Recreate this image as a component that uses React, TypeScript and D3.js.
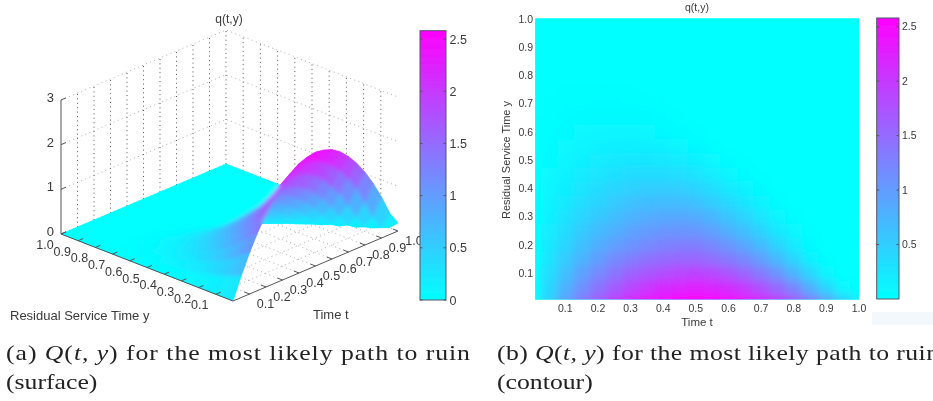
import React from "react";
import * as d3 from "d3";

// t runs 0..1 in steps of 0.05, one row per y (0, 0.05, ... 0.75), rest of a row is zero
const tValues = d3.range(21).map((i) => i / 20);
const yValues = d3.range(21).map((i) => i / 20);

const q000 = [0, 0.48, 0.92, 1.3, 1.63, 1.91, 2.14, 2.32, 2.45, 2.52, 2.55, 2.52, 2.45, 2.32, 2.14, 1.91, 1.63, 1.3, 0.92, 0.48, 0.18];
const q005 = [0, 0.4, 0.78, 1.1, 1.4, 1.65, 1.85, 2.02, 2.13, 2.2, 2.25, 2.2, 2.1, 1.95, 1.75, 1.5, 1.2, 0.8, 0.4, 0.08];
const q010 = [0, 0.33, 0.64, 0.93, 1.18, 1.4, 1.57, 1.7, 1.8, 1.87, 1.9, 1.85, 1.72, 1.55, 1.33, 1.08, 0.75, 0.4, 0.1];
const q015 = [0, 0.27, 0.53, 0.77, 0.98, 1.17, 1.31, 1.43, 1.5, 1.55, 1.55, 1.47, 1.35, 1.18, 0.97, 0.7, 0.42, 0.15, 0.02];
const q020 = [0, 0.22, 0.43, 0.63, 0.81, 0.96, 1.08, 1.17, 1.25, 1.3, 1.3, 1.2, 1.06, 0.88, 0.68, 0.44, 0.2, 0.05];
const q025 = [0, 0.18, 0.35, 0.52, 0.68, 0.8, 0.92, 1.0, 1.06, 1.08, 1.05, 0.95, 0.8, 0.63, 0.44, 0.23, 0.08, 0.01];
const q030 = [0, 0.14, 0.28, 0.42, 0.55, 0.66, 0.76, 0.83, 0.87, 0.88, 0.84, 0.74, 0.58, 0.42, 0.26, 0.1, 0.02];
const q035 = [0, 0.11, 0.22, 0.33, 0.44, 0.53, 0.61, 0.66, 0.68, 0.67, 0.62, 0.51, 0.38, 0.25, 0.12, 0.03];
const q040 = [0, 0.09, 0.17, 0.26, 0.34, 0.41, 0.47, 0.5, 0.51, 0.49, 0.44, 0.33, 0.22, 0.12, 0.04];
const q045 = [0, 0.07, 0.13, 0.2, 0.26, 0.31, 0.35, 0.36, 0.35, 0.32, 0.27, 0.18, 0.1, 0.04, 0.01];
const q050 = [0, 0.05, 0.09, 0.14, 0.19, 0.22, 0.24, 0.25, 0.23, 0.2, 0.15, 0.08, 0.03, 0.01];
const q055 = [0, 0.03, 0.07, 0.1, 0.13, 0.15, 0.16, 0.15, 0.13, 0.1, 0.06, 0.02];
const q060 = [0, 0.02, 0.05, 0.07, 0.08, 0.09, 0.09, 0.08, 0.06, 0.04, 0.02];
const q065 = [0, 0.01, 0.03, 0.04, 0.05, 0.05, 0.05, 0.04, 0.03, 0.01];
const q070 = [0, 0.01, 0.02, 0.02, 0.03, 0.03, 0.02, 0.02, 0.01];
const q075 = [0, 0, 0.01, 0.01, 0.01, 0.01, 0.01];
const qRows = [q000, q005, q010, q015, q020, q025, q030, q035, q040, q045, q050, q055, q060, q065, q070, q075];

const tenths = [0.1, 0.2, 0.3, 0.4, 0.5, 0.6, 0.7, 0.8, 0.9, 1.0];
const zTicks = [0, 1, 2, 3];
const barTicksLeft = [0, 0.5, 1, 1.5, 2, 2.5];
const barTicksRight = [0.5, 1, 1.5, 2, 2.5];
const qMax = 2.58;

const qAt = (i: number, j: number) => (qRows[j] && qRows[j][i]) || 0;

const color = d3.scaleLinear<string>().domain([0, qMax]).range(["#00ffff", "#ff00ff"]);

const INK = "#3a3a3a";
const SANS = "'Liberation Sans', Arial, sans-serif";
const SERIF = "'Liberation Serif', serif";

// oblique view of the left panel
const tx = d3.scaleLinear().domain([0, 1]).range([0, 165]);
const ty = d3.scaleLinear().domain([0, 1]).range([0, -70]);
const yx = d3.scaleLinear().domain([0, 1]).range([0, -172]);
const yy = d3.scaleLinear().domain([0, 1]).range([0, -67]);
const zy = d3.scaleLinear().domain([0, 3]).range([0, -134]);
const project = (t: number, y: number, z: number): [number, number] => [
  233 + tx(t) + yx(y),
  301 + ty(t) + yy(y) + zy(z),
];
const seg = d3.line();

const wallDots = { stroke: "#444", strokeWidth: 0.9, strokeDasharray: "1 3.4", fill: "none" };
const faintDots = { stroke: "#999", strokeWidth: 0.8, strokeDasharray: "1 3.4", fill: "none" };

function Surface() {
  const quads: { d: string; fill: string; key: string; depth: number }[] = [];
  for (let j = yValues.length - 2; j >= 0; j--) {
    for (let i = tValues.length - 2; i >= 0; i--) {
      const a = qAt(i, j), b = qAt(i + 1, j), c = qAt(i + 1, j + 1), e = qAt(i, j + 1);
      const d = seg([
        project(tValues[i], yValues[j], a),
        project(tValues[i + 1], yValues[j], b),
        project(tValues[i + 1], yValues[j + 1], c),
        project(tValues[i], yValues[j + 1], e),
      ]) + "Z";
      quads.push({ d, fill: color((a + b + c + e) / 4), key: `${i}-${j}`, depth: i + j });
    }
  }
  quads.sort((p, r) => r.depth - p.depth);
  const paint = quads.map((q) => (
    <path key={q.key} d={q.d} fill={q.fill} stroke={q.fill} strokeWidth={0.6} />
  ));
  return (
    <g>
      <defs>
        <clipPath id="surface-clip">
          {quads.map((q) => <path key={q.key} d={q.d} />)}
        </clipPath>
        <filter id="surface-blur" x="-5%" y="-5%" width="110%" height="110%">
          <feGaussianBlur stdDeviation={2.2} />
        </filter>
      </defs>
      {paint}
      {/* soften the facets, the outline stays where it is */}
      <g clipPath="url(#surface-clip)">
        <g filter="url(#surface-blur)">{paint}</g>
      </g>
    </g>
  );
}

function Panel3D() {
  return (
    <g fontFamily={SANS} fill={INK}>
      <text x={229} y={23} fontSize={12} textAnchor="middle">q(t,y)</text>

      {/* walls and floor */}
      {tenths.slice(0, 9).map((v) => (
        <g key={v}>
          <path d={seg([project(v, 1, 0), project(v, 1, 3)])!} {...wallDots} />
          <path d={seg([project(1, v, 0), project(1, v, 3)])!} {...wallDots} />
          <path d={seg([project(v, 0, 0), project(v, 1, 0)])!} {...faintDots} />
          <path d={seg([project(0, v, 0), project(1, v, 0)])!} {...faintDots} />
        </g>
      ))}
      <path d={seg([project(1, 1, 0), project(1, 1, 3)])!} {...wallDots} />
      {zTicks.map((z) => (
        <path key={z} d={seg([project(0, 1, z), project(1, 1, z), project(1, 0, z)])!} {...faintDots} />
      ))}

      <Surface />

      {/* axes */}
      <g stroke="#555" strokeWidth={1} fill="none">
        <path d={seg([project(0, 1, 0), project(0, 1, 3)])!} />
        <path d={seg([project(0, 1, 0), project(0, 0, 0), project(1, 0, 0)])!} />
        {zTicks.map((z) => (
          <path key={z} d={seg([project(0, 1, z), project(0.03, 1, z)])!} />
        ))}
        {tenths.map((v) => (
          <g key={v}>
            <path d={seg([project(0, v, 0), project(0.03, v, 0)])!} />
            <path d={seg([project(v, 0, 0), project(v, 0.03, 0)])!} />
          </g>
        ))}
      </g>

      {zTicks.map((z) => {
        const [x, y] = project(0, 1, z);
        return <text key={z} x={x - 7} y={y + 2} fontSize={13} textAnchor="end">{z}</text>;
      })}
      {tenths.map((v) => {
        const [x, y] = project(0, v, 0);
        return <text key={v} x={x - 16} y={y + 15} fontSize={12.5} textAnchor="middle">{v.toFixed(1)}</text>;
      })}
      {tenths.map((v) => {
        const [x, y] = project(v, 0, 0);
        return <text key={v} x={x + 16} y={y + 14} fontSize={12.5} textAnchor="middle">{v.toFixed(1)}</text>;
      })}
      <text x={10} y={320} fontSize={13}>Residual Service Time y</text>
      <text x={313} y={319} fontSize={13}>Time t</text>
    </g>
  );
}

function ColorBar({ id, x0, x1, y0, y1, ticks, fontSize, labelX }: any) {
  const bar = d3.scaleLinear().domain([0, qMax]).range([y1, y0]);
  const stops = d3.ticks(0, qMax, 8);
  return (
    <g fontFamily={SANS} fill={INK}>
      <defs>
        <linearGradient id={id} x1="0" y1="1" x2="0" y2="0">
          {stops.map((s) => (
            <stop key={s} offset={s / qMax} stopColor={color(s)} />
          ))}
          <stop offset={1} stopColor={color(qMax)} />
        </linearGradient>
      </defs>
      <rect x={x0} y={y0} width={x1 - x0} height={y1 - y0} fill={`url(#${id})`} stroke="#556" strokeWidth={1} />
      {ticks.map((v: number) => (
        <g key={v}>
          <path d={seg([[x0, bar(v)], [x0 + 2.5, bar(v)]])!} stroke="#555" />
          <path d={seg([[x1 - 2.5, bar(v)], [x1, bar(v)]])!} stroke="#555" />
          <text x={labelX} y={bar(v) + fontSize * 0.36} fontSize={fontSize}>{v}</text>
        </g>
      ))}
    </g>
  );
}

function Heatmap() {
  const x = d3.scaleLinear().domain([0, 1]).range([532.7, 859]);
  const y = d3.scaleLinear().domain([0, 1]).range([301, 18.5]);
  const left = x(0.008), top = y(1), bottom = y(0.005), right = x(1);
  const half = 0.025;
  return (
    <g fontFamily={SANS} fill={INK}>
      <defs>
        <clipPath id="heat-clip">
          <rect x={left} y={top} width={right - left} height={bottom - top} />
        </clipPath>
        <filter id="heat-blur" x="-10%" y="-10%" width="120%" height="120%">
          <feGaussianBlur stdDeviation={4} />
        </filter>
      </defs>
      <rect x={left} y={top} width={right - left} height={bottom - top} fill="#00ffff" />
      <g clipPath="url(#heat-clip)">
        <g filter="url(#heat-blur)">
          {yValues.map((yv, j) =>
            tValues.map((tv, i) => {
              // edge cells run past the clip so the blur does not fade at the frame
              const x0 = i === 0 ? x(tv) - 30 : x(tv - half);
              const x1 = i === 20 ? x(tv) + 30 : x(tv + half);
              const y0 = j === 20 ? y(yv) - 30 : y(yv + half);
              const y1 = j === 0 ? y(yv) + 30 : y(yv - half);
              return (
                <rect key={`${i}-${j}`} x={x0} y={y0} width={x1 - x0 + 0.5} height={y1 - y0 + 0.5} fill={color(qAt(i, j))} />
              );
            })
          )}
        </g>
      </g>
      <text x={697} y={11} fontSize={10.5} textAnchor="middle">q(t,y)</text>
      {tenths.map((v) => (
        <text key={v} x={x(v)} y={312} fontSize={10.5} textAnchor="middle">{v.toFixed(1)}</text>
      ))}
      {tenths.map((v) => (
        <text key={v} x={533} y={y(v) + 4} fontSize={10.5} textAnchor="end">{v.toFixed(1)}</text>
      ))}
      <text x={697} y={326} fontSize={11.5} textAnchor="middle">Time t</text>
      <text transform="translate(510,160) rotate(-90)" fontSize={11} textAnchor="middle">Residual Service Time y</text>
      <rect x={872} y={312} width={61} height={13} fill="#f3f8fc" />
    </g>
  );
}

// Computer Modern runs wider than Liberation Serif, so the captions are stretched
const STRETCH = 1.17;

function Caption({ x, y, label, len }: { x: number; y: number; label: string; len: number }) {
  return (
    <text transform={`translate(${x},${y}) scale(${STRETCH},1)`} fontFamily={SERIF} fontSize={22} fill="#222" textLength={len / STRETCH} lengthAdjust="spacing">
      {label} <tspan fontStyle="italic">Q</tspan>(<tspan fontStyle="italic">t, y</tspan>) for the most likely path to ruin
    </text>
  );
}

function Line2({ x, y, text }: { x: number; y: number; text: string }) {
  return (
    <text transform={`translate(${x},${y}) scale(${STRETCH},1)`} fontFamily={SERIF} fontSize={22} fill="#222">{text}</text>
  );
}

export default function App() {
  return (
    <svg width={933} height={401} style={{ position: "absolute", left: 0, top: 0, background: "#fff" }}>
      <defs>
        {/* the reference is a soft scan */}
        <filter id="soft" filterUnits="userSpaceOnUse" x={0} y={0} width={933} height={401}>
          <feGaussianBlur stdDeviation={0.4} />
        </filter>
      </defs>
      <g filter="url(#soft)">
        <Panel3D />
        <ColorBar id="bar-left" x0={420} x1={446} y0={30.7} y1={300} ticks={barTicksLeft} fontSize={12.5} labelX={449.5} />
        <Heatmap />
        <ColorBar id="bar-right" x0={876.7} x1={899} y0={18} y1={299} ticks={barTicksRight} fontSize={10.5} labelX={902} />
        <Caption x={6} y={360} label="(a)" len={464} />
        <Caption x={497} y={360} label="(b)" len={442} />
        <Line2 x={6} y={389} text="(surface)" />
        <Line2 x={497} y={389} text="(contour)" />
      </g>
    </svg>
  );
}
